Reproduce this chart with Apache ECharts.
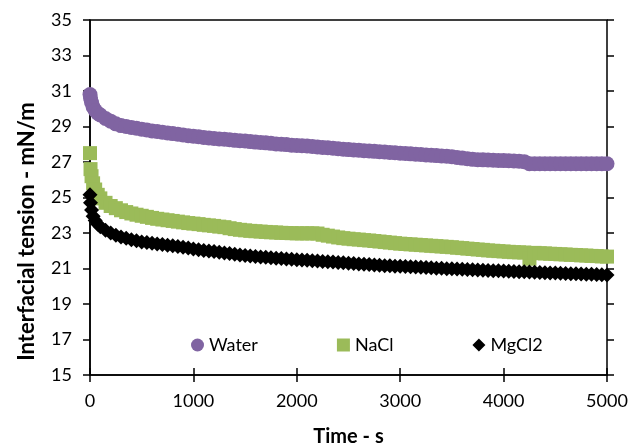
<!DOCTYPE html>
<html>
<head>
<meta charset="utf-8">
<script src="https://cdn.jsdelivr.net/npm/echarts@6/dist/echarts.min.js"></script>
<style>
  html, body { margin: 0; padding: 0; background: #fff; }
  #chart { width: 630px; height: 446px; }
</style>
</head>
<body>
<div id="chart"></div>
<script>
// time in seconds, shared by all three series
const times = [
  0, 5, 15, 30, 50, 75, 100,
  150, 200, 250, 300,
  350, 400, 450, 500, 550, 600, 650, 700, 750, 800, 850, 900, 950, 1000,
  1050, 1100, 1150, 1200, 1250, 1300, 1350, 1400, 1450, 1500,
  1550, 1600, 1650, 1700, 1750, 1800, 1850, 1900, 1950, 2000,
  2050, 2100, 2150, 2200, 2250, 2300, 2350, 2400, 2450, 2500,
  2550, 2600, 2650, 2700, 2750, 2800, 2850, 2900, 2950, 3000,
  3050, 3100, 3150, 3200, 3250, 3300, 3350, 3400, 3450, 3500,
  3550, 3600, 3650, 3700, 3750, 3800, 3850, 3900, 3950, 4000,
  4050, 4100, 4150, 4200,
  4250, 4300, 4350, 4400, 4450, 4500, 4550, 4600, 4650, 4700,
  4750, 4800, 4850, 4900, 4950, 5000,
]

// interfacial tension, mN/m
const water = [
  30.8, 30.6, 30.35, 30.1, 29.9, 29.75, 29.65,
  29.45, 29.3, 29.15, 29.05,
  29.0, 28.95, 28.9, 28.85, 28.8, 28.75, 28.72, 28.68, 28.64, 28.6, 28.56, 28.52, 28.48, 28.45,
  28.42, 28.38, 28.35, 28.32, 28.3, 28.28, 28.25, 28.22, 28.2, 28.18,
  28.15, 28.12, 28.1, 28.08, 28.05, 28.02, 28.0, 27.98, 27.95, 27.93,
  27.92, 27.9, 27.88, 27.85, 27.82, 27.8, 27.78, 27.75, 27.72, 27.7,
  27.68, 27.66, 27.64, 27.62, 27.6, 27.58, 27.56, 27.54, 27.52, 27.5,
  27.48, 27.46, 27.44, 27.42, 27.4, 27.38, 27.36, 27.34, 27.32, 27.3,
  27.25, 27.22, 27.18, 27.15, 27.13, 27.12, 27.11, 27.1, 27.09, 27.08,
  27.07, 27.06, 27.04, 27.02,
  26.9, 26.9, 26.9, 26.9, 26.9, 26.9, 26.9, 26.9, 26.9, 26.9,
  26.9, 26.9, 26.9, 26.9, 26.9, 26.9,
]

const nacl = [
  27.5, 26.6, 26.2, 25.8, 25.45, 25.15, 24.95,
  24.7, 24.52, 24.4, 24.28,
  24.18, 24.1, 24.03, 23.97, 23.91, 23.85, 23.8, 23.76, 23.72, 23.68, 23.64, 23.6, 23.56, 23.53,
  23.5, 23.46, 23.43, 23.4, 23.36, 23.33, 23.27, 23.22, 23.18, 23.15,
  23.12, 23.1, 23.08, 23.06, 23.04, 23.03, 23.01, 23.0, 22.99, 22.98,
  22.98, 22.98, 22.98, 22.97, 22.9, 22.85, 22.8, 22.75, 22.71, 22.68,
  22.65, 22.63, 22.6, 22.58, 22.55, 22.52, 22.49, 22.46, 22.43, 22.4,
  22.38, 22.36, 22.34, 22.32, 22.3, 22.28, 22.26, 22.24, 22.22, 22.2,
  22.17, 22.15, 22.12, 22.1, 22.07, 22.05, 22.02, 22.0, 21.98, 21.96,
  21.94, 21.92, 21.91, 21.9,
  21.55, 21.88, 21.86, 21.85, 21.83, 21.82, 21.8, 21.79, 21.77, 21.76,
  21.74, 21.73, 21.71, 21.7, 21.68, 21.67,
]

const mgcl2 = [
  25.15, 24.7, 24.3, 23.95, 23.7, 23.5, 23.35,
  23.15, 23.0, 22.88, 22.78,
  22.7, 22.62, 22.56, 22.5, 22.46, 22.42, 22.38, 22.35, 22.31, 22.28, 22.24, 22.2, 22.15, 22.1,
  22.06, 22.02, 21.99, 21.96, 21.92, 21.88, 21.84, 21.8, 21.76, 21.73,
  21.7, 21.68, 21.65, 21.63, 21.6, 21.58, 21.56, 21.54, 21.52, 21.5,
  21.48, 21.46, 21.44, 21.42, 21.4, 21.38, 21.36, 21.34, 21.32, 21.3,
  21.28, 21.26, 21.24, 21.22, 21.2, 21.18, 21.16, 21.15, 21.13, 21.12,
  21.11, 21.1, 21.08, 21.07, 21.05, 21.04, 21.02, 21.01, 20.99, 20.98,
  20.97, 20.96, 20.94, 20.93, 20.91, 20.9, 20.89, 20.88, 20.87, 20.86,
  20.84, 20.83, 20.82, 20.81,
  20.8, 20.79, 20.77, 20.76, 20.75, 20.74, 20.73, 20.72, 20.71, 20.7,
  20.69, 20.68, 20.67, 20.66, 20.65, 20.64,
]

const seriesNames = ['Water', 'NaCl', 'MgCl2']

const yMin = 15
const yMax = 35
const yStep = 2
const xMin = 0
const xMax = 5000
const xStep = 1000

const font = 'Lato, "Open Sans", sans-serif'

const pairs = (vals) => vals.map((v, i) => [times[i], v])

const chart = echarts.init(document.getElementById('chart'), null, { renderer: 'canvas' })

const tickStyle = { color: '#000', width: 1.5 }

const option = {
  backgroundColor: '#fff',
  animation: false,
  textStyle: { fontFamily: font, color: '#000' },
  grid: {
    left: 90,
    right: 23,
    top: 20,
    bottom: 71,
    show: true,
    borderColor: '#000',
    borderWidth: 1.5,
    outerBoundsMode: 'none',
  },
  legend: {
    data: [
      { name: seriesNames[0], icon: 'circle' },
      { name: seriesNames[1], icon: 'rect' },
      { name: seriesNames[2], icon: 'diamond' },
    ],
    left: 186,
    top: 331,
    itemGap: 79,
    itemWidth: 13,
    itemHeight: 13,
    textStyle: { fontFamily: font, fontSize: 18, color: '#000' },
  },
  xAxis: [
    {
      type: 'value',
      min: xMin,
      max: xMax,
      interval: xStep,
      name: 'Time - s',
      nameLocation: 'middle',
      nameGap: 52,
      nameTextStyle: { fontFamily: font, fontSize: 20, fontWeight: 'bold', color: '#000' },
      axisLine: { show: true, lineStyle: tickStyle },
      axisTick: { show: true, inside: false, length: 7, lineStyle: tickStyle },
      axisLabel: {
        fontFamily: font, fontSize: 18, color: '#000', margin: 17,
        formatter: (v) => String(v),
      },
      splitLine: { show: false },
    },
    {
      // inward half of the crossing ticks
      type: 'value',
      position: 'top',
      offset: -355,
      min: xMin,
      max: xMax,
      interval: xStep,
      axisLine: { show: false },
      axisTick: { show: true, inside: false, length: 7, lineStyle: tickStyle },
      axisLabel: { show: false },
      splitLine: { show: false },
    },
  ],
  yAxis: [
    {
      type: 'value',
      min: yMin,
      max: yMax,
      interval: yStep,
      name: 'Interfacial tension - mN/m',
      nameLocation: 'middle',
      nameRotate: 90,
      nameGap: 52,
      nameTextStyle: {
        fontFamily: font, fontSize: 22, fontWeight: 'bold', color: '#000',
        padding: [0, 68, 0, 0],
      },
      axisLine: { show: true, lineStyle: tickStyle },
      axisTick: { show: true, inside: false, length: 7, lineStyle: tickStyle },
      axisLabel: { fontFamily: font, fontSize: 18, color: '#000', margin: 18 },
      splitLine: { show: false },
    },
    {
      type: 'value',
      position: 'right',
      offset: -517,
      min: yMin,
      max: yMax,
      interval: yStep,
      axisLine: { show: false },
      axisTick: { show: true, inside: false, length: 7, lineStyle: tickStyle },
      axisLabel: { show: false },
      splitLine: { show: false },
    },
  ],
  series: [
    {
      name: seriesNames[0],
      type: 'scatter',
      symbol: 'circle',
      symbolSize: 15,
      itemStyle: { color: '#8064A2', opacity: 1 },
      data: pairs(water),
    },
    {
      name: seriesNames[1],
      type: 'scatter',
      symbol: 'rect',
      symbolSize: 14,
      itemStyle: { color: '#9BBB59', opacity: 1 },
      data: pairs(nacl),
    },
    {
      name: seriesNames[2],
      type: 'scatter',
      symbol: 'diamond',
      symbolSize: 15,
      itemStyle: { color: '#000000', opacity: 1 },
      data: pairs(mgcl2),
    },
  ],
}

chart.setOption(option)
</script>
</body>
</html>
